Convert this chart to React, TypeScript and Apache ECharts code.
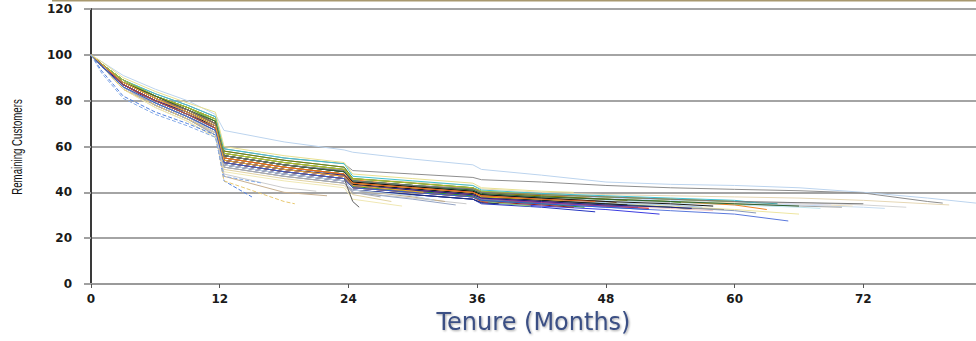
import React, { useEffect, useRef } from "react";
import * as echarts from "echarts";

// Month grid shared by all cohort curves (tenure in months)
const months: number[] = [0, 1, 3, 6, 9, 11.6, 12.4, 18, 23.6, 24.4, 30, 35.6, 36.4, 42, 48, 54, 60, 66, 72, 78, 82.5];

// Tick labels of the axes
const xTicks: number[] = [0, 12, 24, 36, 48, 60, 72];
const yTicks: number[] = [0, 20, 40, 60, 80, 100, 120];

// Month at which each cohort curve ends (its last value is placed there)
const lastMonth: number[] = [
  82.5, 79.4, 80, 76, 74, 70, 71, 68, 69, 65, 66, 63, 62, 61, 64, 59, 57, 56, 58, 55,
  53, 52, 50, 51, 49, 54, 47, 46, 44, 45, 43, 41, 39, 40, 38, 35, 34, 33, 32, 28,
  27, 29, 25, 15, 19, 22, 21, 58, 50, 44, 62, 47, 56, 60, 37, 66, 72, 52, 31, 45, 16,
];

// Remaining customers (% of cohort) read at the month grid, last value at lastMonth
const retention: number[][] = [
  [100, 97, 91, 85, 80, 74, 67, 62, 58.5, 57.5, 54.5, 52, 50, 47.5, 44.5, 43.5, 43, 42, 40, 37.5, 35.3],
  [100, 96, 89, 83, 78, 73, 59, 55, 52.5, 49.5, 48, 46.5, 45.5, 44.5, 43, 42, 41.3, 40.7, 39.7, 36, 35.3],
  [100, 96, 88, 82, 77, 72, 58, 54, 51, 46, 44.5, 43, 41.5, 40, 39, 38.5, 38, 37.5, 36.5, 35, 34.5],
  [100, 96, 88, 81, 76, 71, 57, 53, 50, 45, 43, 41.5, 40, 39, 38, 37, 36, 35.5, 34.5, 33.5],
  [100, 95, 87, 80, 75, 70, 56, 52, 49.5, 44.5, 42.5, 41, 39.5, 38.5, 37.5, 36.5, 35.5, 34.5, 33.5, 33],
  [100, 96, 89, 82, 77, 71, 57, 53, 50, 45, 43, 41.5, 40, 38.5, 37, 36, 35, 34, 33.5],
  [100, 96, 88, 81, 76, 70, 56, 52, 49, 44, 42, 40.5, 39, 38, 37, 36, 35.5, 35, 34],
  [100, 95, 87, 80, 75, 69, 55, 51, 48, 43.5, 41.5, 40, 38.5, 37.5, 36.5, 35.5, 34.5, 33.5, 33],
  [100, 96, 88, 82, 77, 72, 57, 53, 50, 45, 43, 42, 40.5, 39, 38, 37, 36, 35, 34.5],
  [100, 95, 86, 79, 73, 67, 53, 49, 46, 42, 40, 38, 36.5, 35, 33.5, 32, 30.5, 27.5],
  [100, 96, 88, 81, 75, 70, 55, 51, 48, 44, 42, 40, 38.5, 37, 35.5, 34, 32.5, 30.5],
  [100, 96, 88, 82, 76, 71, 57, 53, 50, 45.5, 43, 41.5, 40, 38.5, 37, 36, 34.5, 32.5],
  [100, 95, 87, 80, 74, 69, 55, 51, 48, 44, 41.5, 40, 38, 36.5, 35, 33.5, 32, 31],
  [100, 96, 88, 81, 76, 71, 56, 52, 49, 45, 43, 41, 39.5, 38, 37, 36, 35, 34.5],
  [100, 96, 89, 82, 77, 72, 58, 54, 51, 46, 44, 42, 40.5, 39, 38, 37, 36, 35],
  [100, 95, 87, 80, 74, 68, 54, 50, 47, 43, 41, 39, 37.5, 36, 34.5, 33.5, 32.5],
  [100, 96, 88, 81, 75, 70, 55, 51, 48, 44, 42, 40, 38.5, 37, 35.5, 34.5, 33.5],
  [100, 96, 87, 80, 75, 69, 55, 51, 48, 43.5, 41.5, 39.5, 38, 36.5, 35, 33.5, 32.5],
  [100, 95, 86, 79, 73, 68, 53, 49, 46, 42, 40, 38, 36.5, 35, 34, 33, 32],
  [100, 96, 89, 82, 77, 71, 57, 53, 50, 45, 43, 41, 39, 38, 37, 36, 35.5],
  [100, 95, 86, 79, 73, 67, 52, 48, 45, 41, 39, 37, 35.5, 34, 32.5, 30.5],
  [100, 96, 88, 81, 75, 69, 54, 50, 47, 43, 41, 39, 37, 35.5, 34, 33],
  [100, 96, 87, 80, 74, 69, 55, 51, 48, 43.5, 41.5, 39.5, 38, 36.5, 35, 34.5],
  [100, 95, 87, 80, 74, 68, 54, 50, 47, 43, 40.5, 38.5, 37, 35.5, 34, 33.5],
  [100, 96, 88, 82, 76, 70, 56, 52, 49, 44.5, 42.5, 40.5, 39, 37.5, 36, 35.5],
  [100, 96, 88, 81, 76, 70, 56, 52, 49, 45, 43, 41, 39.5, 38, 37, 35.5],
  [100, 95, 86, 78, 72, 66, 52, 48, 45, 41, 39, 37, 35, 33.5, 31.5],
  [100, 96, 87, 80, 74, 68, 54, 50, 47, 42.5, 40.5, 38.5, 36.5, 35, 33.5],
  [100, 96, 88, 81, 75, 70, 55, 51, 48, 44, 42, 40, 38, 37, 36.5],
  [100, 95, 87, 79, 73, 67, 53, 49, 46, 42, 40, 38, 36, 34.5, 33.5],
  [100, 96, 88, 81, 76, 70, 56, 52, 49, 45, 43, 41, 39, 37.5, 37],
  [100, 95, 86, 79, 73, 67, 53, 49, 46, 42, 40, 38, 36, 34],
  [100, 96, 87, 80, 74, 68, 54, 50, 47, 43, 41, 39, 37, 36],
  [100, 96, 88, 81, 75, 69, 55, 51, 48, 44, 42, 40, 38.5, 37.5],
  [100, 95, 86, 79, 73, 67, 52, 48, 45, 41, 39, 37, 35.5, 35],
  [100, 95, 86, 78, 72, 66, 51, 47, 44, 40, 37.5, 35],
  [100, 95, 85, 78, 72, 65, 51, 47, 44, 40, 37, 34.5],
  [100, 95, 86, 79, 73, 66, 52, 48, 45, 41, 38, 36],
  [100, 96, 87, 80, 74, 67, 52, 48, 45, 41, 38.5, 36.5],
  [100, 95, 85, 77, 71, 64, 50, 46, 43, 39, 36],
  [100, 95, 86, 78, 72, 65, 51, 47, 44, 40, 38],
  [100, 95, 85, 77, 71, 64, 49, 45, 42, 37, 34],
  [100, 96, 87, 80, 74, 68, 53, 49, 46, 36, 33.5],
  [100, 93, 82, 75, 70, 65, 45, 38],
  [100, 95, 85, 78, 72, 66, 45, 36, 35],
  [100, 95, 86, 79, 73, 67, 47, 40, 38.5],
  [100, 96, 86, 79, 73, 66, 48, 42, 40.5],
  [100, 96, 88, 81, 76, 70, 56, 52, 49, 44.5, 42.5, 40.5, 39, 37.5, 36, 35, 34],
  [100, 96, 89, 82, 77, 72, 58, 54, 51, 46, 44, 42, 40, 38.5, 37, 36.5],
  [100, 96, 88, 81, 75, 69, 54, 50, 47, 43, 41, 39, 37.5, 36, 35.5],
  [100, 96, 89, 83, 78, 73, 59, 55, 52.5, 47, 45, 43, 41, 39.5, 38.5, 37.5, 36.5, 35.5],
  [100, 96, 88, 81, 76, 70, 55, 51, 48, 44, 42, 40, 38.5, 37, 36],
  [100, 95, 87, 80, 75, 69, 54, 50, 47.5, 43, 41, 39, 37.5, 36, 34.5, 33.5, 33],
  [100, 96, 89, 82, 77, 72, 57, 53, 50, 46, 44, 42, 40.5, 39, 38, 37, 36],
  [100, 96, 87, 80, 74, 68, 53, 49, 46, 42, 40, 38, 36, 35.5],
  [100, 96, 88, 82, 76, 71, 56, 52, 49, 45, 43, 41, 39.5, 38, 37, 36, 35, 34],
  [100, 96, 88, 81, 76, 70, 56, 52, 49.5, 45, 43, 41.5, 40, 39, 38, 37, 36, 35.5, 35],
  [100, 95, 86, 79, 73, 67, 53, 49, 46, 42, 40, 38, 36.5, 35, 33.5, 32.5],
  [100, 96, 88, 81, 75, 69, 54, 50, 47, 43, 40.5, 40],
  [100, 97, 90, 84, 79, 75, 60, 56, 53, 48, 46, 44, 42, 40.5, 40],
  [100, 92, 81, 74, 69, 64, 47, 44],
];

// Styles (kept apart from the data)
const lineColors: string[] = [
  "#bcd4ee", "#8e8e8e", "#e6d7b4", "#d4d4d4", "#c6dcf2", "#a4a4a4", "#eee0c0", "#bfe6ee", "#dcdcee", "#5a78dc",
  "#eee6a0", "#f08224", "#8a9ab8", "#b2d890", "#3fa0a0", "#969696", "#a8c8e8", "#4e7a4e", "#f0c8c8", "#5cb040",
  "#3c3ce0", "#e02424", "#1e1e1e", "#8040a0", "#a06030", "#c4c4c4", "#2434c0", "#2f902f", "#e6cc20", "#902424",
  "#239090", "#90d070", "#7888a8", "#f0a040", "#203070", "#cacaca", "#94a4c4", "#c2aa84", "#b8d0e8", "#e2d2a2",
  "#aaaaaa", "#f0e8b4", "#606060", "#5080e0", "#e8c870", "#c8b090", "#cccccc", "#141414", "#808000", "#c040a0",
  "#40c0d0", "#e06020", "#202080", "#b0c030", "#c04040", "#306030", "#7a7a7a", "#3060d0", "#f0b030", "#e8e090",
  "#84aae8",
];
const dashedLines: number[] = [43, 44, 60];

export default function App() {
  const ref = useRef<HTMLDivElement>(null);

  useEffect(() => {
    if (!ref.current) return;
    const chart = echarts.init(ref.current, undefined, { renderer: "svg" });

    const series = retention.map((vals, i) => ({
      type: "line",
      name: "Cohort " + (i + 1),
      data: vals.map((v, j) => [j === vals.length - 1 ? lastMonth[i] : months[j], v]),
      showSymbol: false,
      symbol: "none",
      silent: true,
      lineStyle: {
        width: 1,
        color: lineColors[i % lineColors.length],
        type: dashedLines.includes(i) ? "dashed" : "solid",
      },
    }));

    const labelStyle = {
      fontFamily: "'DejaVu Sans', Verdana, sans-serif",
      fontWeight: "bold",
      fontSize: 12,
      color: "#1a1a1a",
    };

    chart.setOption({
      animation: false,
      backgroundColor: "#ffffff",
      grid: {
        left: 91,
        right: 0,
        top: 9,
        bottom: 57,
        containLabel: false,
        outerBoundsMode: "none",
      },
      xAxis: {
        type: "value",
        min: 0,
        max: 82.5,
        interval: 12,
        name: "Tenure (Months)",
        nameLocation: "middle",
        nameGap: 26,
        nameTextStyle: {
          fontFamily: "'DejaVu Sans', Verdana, sans-serif",
          fontSize: 24,
          color: "#3b4f84",
          textShadowColor: "rgba(0,0,0,0.35)",
          textShadowBlur: 2,
          textShadowOffsetX: 1,
          textShadowOffsetY: 1,
        },
        axisLine: { show: true, lineStyle: { color: "#9a9a9a", width: 2 } },
        axisTick: { show: true, length: 4, lineStyle: { color: "#555" } },
        axisLabel: {
          ...labelStyle,
          margin: 9,
          showMaxLabel: false,
          formatter: (v: number) => (xTicks.includes(v) ? String(v) : ""),
        },
        splitLine: { show: false },
      },
      yAxis: {
        type: "value",
        min: 0,
        max: 120,
        interval: 20,
        axisLine: { show: true, lineStyle: { color: "#3a3a3a", width: 2 } },
        axisTick: { show: true, length: 7, lineStyle: { color: "#a0a0a0", width: 2 } },
        axisLabel: {
          ...labelStyle,
          margin: 19,
          formatter: (v: number) => (yTicks.includes(v) ? String(v) : ""),
        },
        splitLine: { show: true, lineStyle: { color: "#a4a4a4", width: 2 } },
      },
      graphic: [
        {
          type: "line",
          shape: { x1: 52, y1: 0.5, x2: 976, y2: 0.5 },
          style: { stroke: "#a8986e", lineWidth: 2 },
          silent: true,
        },
        {
          type: "text",
          x: 17,
          y: 147,
          rotation: Math.PI / 2,
          scaleX: 0.69,
          style: {
            text: "Remaining Customers",
            font: "14px 'Liberation Sans', Arial, sans-serif",
            fill: "#111",
            align: "center",
            verticalAlign: "middle",
          },
          silent: true,
        },
      ],
      series,
    });

    return () => chart.dispose();
  }, []);

  return (
    <div
      ref={ref}
      style={{ position: "fixed", left: 0, top: 0, width: 976, height: 341 }}
    />
  );
}
